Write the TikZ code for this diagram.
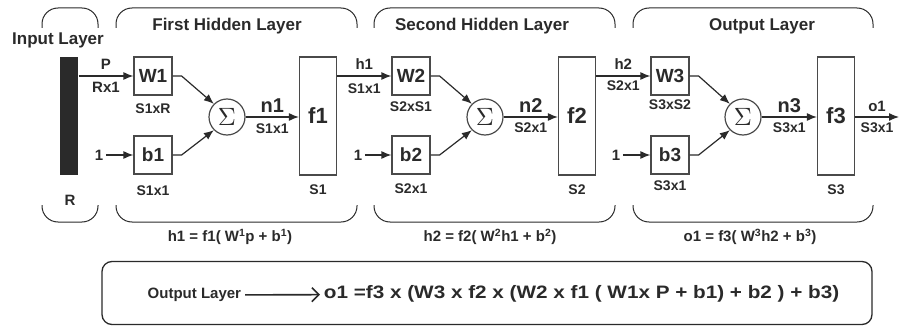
\documentclass[tikz,border=0pt]{standalone}
\usepackage{graphicx}
\usepackage{fontspec}
\setmainfont{Liberation Sans}
\usetikzlibrary{arrows.meta,positioning}
\definecolor{ink}{HTML}{2A2A2A}

\begin{document}
\begin{tikzpicture}[x=1pt, y=-1pt, >={Latex[length=10pt,width=8pt]}, line width=1.2pt, color=ink, font=\bfseries,
  wbox/.style={draw=ink!85, minimum width=38pt, minimum height=38pt, inner sep=0pt, font=\bfseries\fontsize{19}{19}\selectfont},
  fbox/.style={draw=ink!85, minimum width=37pt, minimum height=118pt, inner sep=0pt, font=\bfseries\fontsize{22}{22}\selectfont},
  sumnode/.style={draw=ink!85, circle, minimum size=36pt, inner sep=0pt},
  dim/.style={font=\bfseries\fontsize{14}{14}\selectfont, inner sep=1pt},
  sig/.style={font=\bfseries\fontsize{15}{15}\selectfont, inner sep=2pt},
  big/.style={font=\bfseries\fontsize{20}{20}\selectfont, inner sep=2pt},
  title/.style={font=\bfseries\fontsize{17}{17}\selectfont},
  eqn/.style={font=\bfseries\fontsize{15}{15}\selectfont},
  brace/.style={rounded corners=16pt, line width=1pt}]
\useasboundingbox (0,0) rectangle (899,329);

% layer brackets
\draw[brace] (42,28) -- (42,8) -- (98,8) -- (98,28);
\draw[brace] (42,205) -- (42,222) -- (98,222) -- (98,205);
\draw[brace] (116,28) -- (116,8) -- (357,8) -- (357,28);
\draw[brace] (116,205) -- (116,222) -- (357,222) -- (357,205);
\draw[brace] (374,28) -- (374,8) -- (615,8) -- (615,28);
\draw[brace] (374,205) -- (374,222) -- (615,222) -- (615,205);
\draw[brace] (633,28) -- (633,8) -- (873,8) -- (873,28);
\draw[brace] (633,205) -- (633,222) -- (873,222) -- (873,205);

\node[title] (tin) at (58,40) {Input Layer};
\node[title] (th1) at (227,26) {First Hidden Layer};
\node[title] (th2) at (482,26) {Second Hidden Layer};
\node[title] (tout) at (762,26) {Output Layer};

% input
\node[fill=ink, minimum width=18pt, minimum height=118pt, inner sep=0pt] (inp) at (69,116) {};
\node[sig] (rdim) at (70,200) {R};

% first hidden layer
\node[wbox] (w1) at (153,76) {W1};
\node[wbox] (b1) at (153,155) {b1};
\node[sumnode] (sum1) at (227,117) {\scalebox{2.5}{$\Sigma$}};
\node[fbox] (f1) at (318,116) {f1};
\node[sig] (one1) at (99,155) {1};
\node[dim, below=7pt of w1] {S1xR};
\node[dim, below=10pt of b1] {S1x1};
\node[dim, below=8pt of f1] {S1};

\draw[->] (inp.east |- w1.west) -- (w1.west) node[midway,above=4pt,sig] {P} node[midway,below=4pt,sig] {Rx1};
\draw[->] (one1) -- (b1);
\draw[->] (w1.east) -- ++(9,0) -- (sum1.north west);
\draw[->] (b1.east) -- ++(9,0) -- (sum1.south west);
\draw[->] (sum1) -- (sum1 -| f1.west) node[midway,above=2pt,big] {n1} node[midway,below=5pt,dim] {S1x1};

% second hidden layer
\node[wbox] (w2) at (411,76) {W2};
\node[wbox] (b2) at (411,155) {b2};
\node[sumnode] (sum2) at (485,117) {\scalebox{2.5}{$\Sigma$}};
\node[fbox] (f2) at (577,116) {f2};
\node[sig] (one2) at (358,155) {1};
\node[dim, below=5pt of w2] {S2xS1};
\node[dim, below=8pt of b2] {S2x1};
\node[dim, below=8pt of f2] {S2};

\draw[->] (f1.east |- w2.west) -- (w2.west) node[midway,above=4pt,sig] {h1} node[midway,below=6pt,dim] {S1x1};
\draw[->] (one2) -- (b2);
\draw[->] (w2.east) -- ++(9,0) -- (sum2.north west);
\draw[->] (b2.east) -- ++(9,0) -- (sum2.south west);
\draw[->] (sum2) -- (sum2 -| f2.west) node[midway,above=2pt,big] {n2} node[midway,below=4pt,dim] {S2x1};

% output layer
\node[wbox] (w3) at (670,76) {W3};
\node[wbox] (b3) at (670,155) {b3};
\node[sumnode] (sum3) at (743,117) {\scalebox{2.5}{$\Sigma$}};
\node[fbox] (f3) at (836,116) {f3};
\node[sig] (one3) at (616,155) {1};
\node[dim, below=3pt of w3] {S3xS2};
\node[dim, below=5pt of b3] {S3x1};
\node[dim, below=8pt of f3] {S3};
\coordinate (oend) at (899,117);

\draw[->] (f2.east |- w3.west) -- (w3.west) node[midway,above=4pt,sig] {h2} node[midway,below=3pt,dim] {S2x1};
\draw[->] (one3) -- (b3);
\draw[->] (w3.east) -- ++(9,0) -- (sum3.north west);
\draw[->] (b3.east) -- ++(9,0) -- (sum3.south west);
\draw[->] (sum3) -- (sum3 -| f3.west) node[midway,above=2pt,big] {n3} node[midway,below=4pt,dim] {S3x1};
\draw[->] (f3.east |- oend) -- (oend) node[midway,above=3pt,sig] {o1} node[midway,below=4pt,dim] {S3x1};

% layer equations
\node[eqn] (eq1) at (230,237) {h1 = f1( W\textsuperscript{1}p + b\textsuperscript{1})};
\node[eqn] (eq2) at (490,237) {h2 = f2( W\textsuperscript{2}h1 + b\textsuperscript{2})};
\node[eqn] (eq3) at (750,237) {o1 = f3( W\textsuperscript{3}h2 + b\textsuperscript{3})};

% overall output
\node[draw, rounded corners=10pt, minimum width=770pt, minimum height=63pt, line width=1.3pt] (sumbox) at (487,293) {};
\node[font=\bfseries\fontsize{15}{15}\selectfont, anchor=east] (olab) at (245,295) {Output Layer};
\node[font=\bfseries\fontsize{18}{18}\selectfont, anchor=west] (oeq) at (320,294) {\scalebox{1.15}[1]{o1 =f3 x (W3 x f2 x (W2 x f1 ( W1x P + b1) + b2 ) + b3)}};
\draw[-{Straight Barb[length=7pt,width=14pt]}, line width=1.6pt] (olab) -- (oeq);
\end{tikzpicture}
\end{document}
